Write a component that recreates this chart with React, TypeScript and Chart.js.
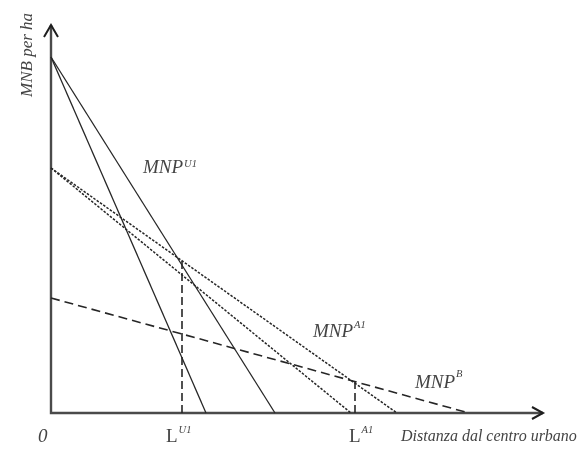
import React, { useEffect, useRef } from "react";
import { Chart, registerables } from "chart.js";

Chart.register(...registerables);

// ---- data (distance units along x, MNB per ha along y) ----
const X_MAX = 50;
const Y_MAX = 40;
const AXIS_X_END = 49.2;
const AXIS_Y_END = 38.8;

const curveNames = ["MNP U1 steep", "MNP U1", "MNP A1 steep", "MNP A1", "MNP B"];
const curveInterceptY = [35.6, 35.6, 24.5, 24.5, 11.5];
const curveInterceptX = [15.5, 22.4, 30.0, 34.6, 41.8];
const curveKinds = ["solid", "solid", "dotted", "dotted", "dashed"];

const boundaryNames = ["L U1", "L A1"];
const boundaryX = [13.1, 30.4];
const boundaryTopY = [15.3, 3.2];

const curveLabelBase = ["MNP", "MNP", "MNP"];
const curveLabelSup = ["U1", "A1", "B"];
const boundaryLabelBase = ["L", "L"];
const boundaryLabelSup = ["U1", "A1"];
const originLabel = "0";
const xTitle = "Distanza dal centro urbano";
const yTitle = "MNB per ha";

// ---- styles ----
const LINE_COLOR = "#262626";
const AXIS_COLOR = "#4a4a4a";
const TEXT_COLOR = "#444444";
const SERIF = "'Liberation Serif', 'DejaVu Serif', serif";

const kindStyle: Record<string, { dash: number[]; width: number }> = {
  solid: { dash: [], width: 1.3 },
  dotted: { dash: [2.5, 1.5], width: 1.5 },
  dashed: { dash: [9, 5], width: 1.6 },
};

export default function App() {
  const ref = useRef<HTMLCanvasElement | null>(null);

  useEffect(() => {
    const canvas = ref.current;
    if (!canvas) return;

    const datasets: any[] = curveNames.map((name, i) => {
      const st = kindStyle[curveKinds[i]];
      return {
        label: name,
        data: [
          { x: 0, y: curveInterceptY[i] },
          { x: curveInterceptX[i], y: 0 },
        ],
        showLine: true,
        borderColor: LINE_COLOR,
        borderWidth: st.width,
        borderDash: st.dash,
        pointRadius: 0,
        fill: false,
        clip: false,
      };
    });
    boundaryNames.forEach((name, i) => {
      datasets.push({
        label: name,
        data: [
          { x: boundaryX[i], y: 0 },
          { x: boundaryX[i], y: boundaryTopY[i] },
        ],
        showLine: true,
        borderColor: LINE_COLOR,
        borderWidth: 1.6,
        borderDash: [8, 4],
        pointRadius: 0,
        fill: false,
        clip: false,
      });
    });

    const axesPlugin = {
      id: "axesArrows",
      beforeDatasetsDraw(chart: any) {
        const { ctx, scales } = chart;
        const xs = scales.x;
        const ys = scales.y;
        const ox = xs.getPixelForValue(0);
        const oy = ys.getPixelForValue(0);
        const xe = xs.getPixelForValue(AXIS_X_END);
        const ye = ys.getPixelForValue(AXIS_Y_END);
        ctx.save();
        ctx.strokeStyle = AXIS_COLOR;
        ctx.lineWidth = 2.4;
        ctx.lineCap = "butt";
        ctx.beginPath();
        ctx.moveTo(ox, oy);
        ctx.lineTo(ox, ye);
        ctx.moveTo(ox - 1.2, oy);
        ctx.lineTo(xe, oy);
        ctx.stroke();
        ctx.lineWidth = 2;
        ctx.strokeStyle = "#1e1e1e";
        ctx.beginPath();
        ctx.moveTo(ox - 7, ye + 12);
        ctx.lineTo(ox, ye);
        ctx.lineTo(ox + 7, ye + 12);
        ctx.moveTo(xe - 11, oy - 6);
        ctx.lineTo(xe, oy);
        ctx.lineTo(xe - 11, oy + 6);
        ctx.stroke();
        ctx.restore();
      },
      afterDraw(chart: any) {
        const { ctx } = chart;
        ctx.save();
        ctx.fillStyle = TEXT_COLOR;
        ctx.textBaseline = "alphabetic";
        ctx.textAlign = "left";

        const bigI = `italic 19px ${SERIF}`;
        const bigR = `19px ${SERIF}`;
        const small = `italic 10.5px ${SERIF}`;

        const withSup = (base: string, sup: string, x: number, y: number, baseFont: string, supDy: number) => {
          ctx.font = baseFont;
          ctx.fillText(base, x, y);
          const w = ctx.measureText(base).width;
          ctx.font = small;
          ctx.fillText(sup, x + w + 1, y - supDy);
        };

        // curve labels
        const curvePos = [
          [143, 173, 6],
          [313, 337, 9],
          [415, 388, 11],
        ];
        curveLabelBase.forEach((b, i) => {
          const [x, y, d] = curvePos[i];
          withSup(b, curveLabelSup[i], x, y, bigI, d);
        });

        // boundary labels
        const boundPos = [
          [166, 442, 9],
          [349, 442, 9],
        ];
        boundaryLabelBase.forEach((b, i) => {
          const [x, y, d] = boundPos[i];
          withSup(b, boundaryLabelSup[i], x, y, bigR, d);
        });

        ctx.font = bigI;
        ctx.fillText(originLabel, 38, 442);

        ctx.font = `italic 16px ${SERIF}`;
        ctx.fillText(xTitle, 401, 441);

        ctx.save();
        ctx.translate(32, 97);
        ctx.rotate(-Math.PI / 2);
        ctx.font = `italic 17px ${SERIF}`;
        ctx.fillText(yTitle, 0, 0);
        ctx.restore();

        ctx.restore();
      },
    };

    const chart = new Chart(canvas, {
      type: "scatter",
      data: { datasets },
      options: {
        animation: false,
        responsive: false,
        events: [],
        layout: { padding: { left: 51, right: 34, top: 13, bottom: 36 } },
        plugins: { legend: { display: false }, tooltip: { enabled: false } },
        scales: {
          x: { type: "linear", min: 0, max: X_MAX, display: false },
          y: { type: "linear", min: 0, max: Y_MAX, display: false },
        },
      },
      plugins: [axesPlugin],
    });

    return () => chart.destroy();
  }, []);

  return (
    <div style={{ position: "absolute", left: 0, top: 0, width: 585, height: 449, background: "#fff" }}>
      <canvas ref={ref} width={585} height={449} style={{ display: "block" }} />
    </div>
  );
}
